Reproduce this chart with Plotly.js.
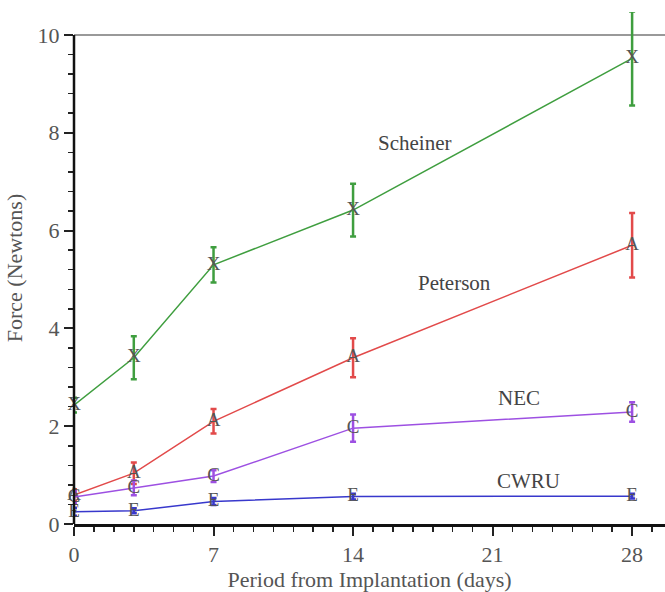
<!DOCTYPE html>
<html>
<head>
<meta charset="utf-8">
<script src="https://cdn.plot.ly/plotly-3.0.1.min.js"></script>
<style>html,body{margin:0;padding:0;background:#fff;}#chart{width:665px;height:592px;}</style>
</head>
<body>
<div id="chart"></div>
<script>
// Data
const days = [0, 3, 7, 14, 28];
const scheiner = [2.43, 3.40, 5.30, 6.42, 9.52];
const scheinerErr = [0.15, 0.44, 0.36, 0.54, 0.96];
const peterson = [0.59, 1.04, 2.10, 3.40, 5.70];
const petersonErr = [0.12, 0.22, 0.25, 0.40, 0.66];
const nec = [0.55, 0.74, 0.98, 1.96, 2.29];
const necErr = [0.12, 0.15, 0.12, 0.28, 0.20];
const cwru = [0.25, 0.27, 0.46, 0.56, 0.57];
const cwruErr = [0.08, 0.05, 0.07, 0.06, 0.05];
const seriesNames = ["Scheiner", "Peterson", "NEC", "CWRU"];
const seriesLetters = ["X", "A", "C", "E"];
const labelX = [17.1, 19.1, 22.3, 22.8];
const labelY = [7.79, 4.93, 2.58, 0.88];
const xTicks = [0, 7, 14, 21, 28];
const yMajorTicks = [0, 2, 4, 6, 8, 10];
const yMinorTicks = [0.4,0.8,1.2,1.6,2.4,2.8,3.2,3.6,4.4,4.8,5.2,5.6,6.4,6.8,7.2,7.6,8.4,8.8,9.2,9.6];

const colors = ["#3f9e3f", "#e24a4a", "#9d50e2", "#3838cc"];
const vals = [scheiner, peterson, nec, cwru];
const errs = [scheinerErr, petersonErr, necErr, cwruErr];
const serif = "'Liberation Serif', 'Times New Roman', Times, serif";

const traces = vals.map((v, i) => ({
  x: days, y: v, type: "scatter", mode: "lines+text",
  name: seriesNames[i],
  text: days.map(() => seriesLetters[i]),
  textposition: "middle center",
  textfont: {family: serif, size: 19, color: "#555"},
  line: {color: colors[i], width: 1.5},
  error_y: {type: "data", array: errs[i], visible: true, color: colors[i], thickness: 2.5, width: 3},
  cliponaxis: false,
  showlegend: false
}));

const annotations = seriesNames.map((n, i) => ({
  x: labelX[i], y: labelY[i], xref: "x", yref: "y", text: n, showarrow: false,
  font: {family: serif, size: 21, color: "#444"}
}));

const layout = {
  width: 665, height: 592,
  margin: {l: 74, r: 0, t: 12, b: 68},
  paper_bgcolor: "#fff", plot_bgcolor: "#fff",
  font: {family: serif, color: "#555"},
  xaxis: {
    range: [0, 29.65], tickmode: "array", tickvals: xTicks, ticks: "outside", ticklen: 9, tickwidth: 2, tickcolor: "#222",
    minor: {dtick: 1, tick0: 0, ticks: "outside", ticklen: 5, tickwidth: 1.5, tickcolor: "#222"},
    showline: true, linecolor: "#111", linewidth: 2.5, showgrid: false, zeroline: false,
    tickfont: {family: serif, size: 22, color: "#555"},
    title: {text: "Period from Implantation (days)", font: {family: serif, size: 22, color: "#555"}, standoff: 2}
  },
  yaxis: {
    range: [0, 10.47], tickmode: "array", tickvals: yMajorTicks, ticks: "outside", ticklen: 9, tickwidth: 2, tickcolor: "#222",
    minor: {tickmode: "array", tickvals: yMinorTicks, ticks: "outside", ticklen: 5, tickwidth: 1.5, tickcolor: "#222"},
    showline: false, showgrid: false, zeroline: false,
    tickfont: {family: serif, size: 22, color: "#555"},
    title: {text: "Force (Newtons)", font: {family: serif, size: 22, color: "#555"}, standoff: 8}
  },
  shapes: [
    {type: "line", xref: "paper", yref: "y", x0: 0, x1: 1, y0: 10, y1: 10, line: {color: "#777", width: 1.5}, layer: "below"},
    {type: "line", xref: "paper", yref: "y", x0: 0, x1: 0, y0: 0, y1: 10, line: {color: "#111", width: 2.5}}
  ],
  annotations: annotations
};

Plotly.newPlot("chart", traces, layout, {displayModeBar: false, staticPlot: true});
</script>
</body>
</html>
